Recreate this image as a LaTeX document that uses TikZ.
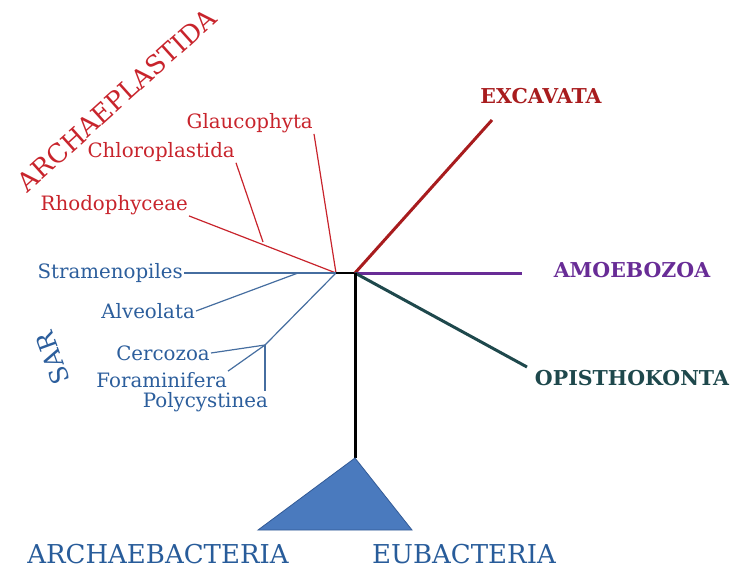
\documentclass[tikz,border=0pt]{standalone}
\usepackage{fontspec}
\setmainfont{DejaVu Serif}
\usetikzlibrary{positioning,calc}
\definecolor{archred}{RGB}{200,36,44}
\definecolor{excred}{RGB}{168,28,30}
\definecolor{amoepurple}{RGB}{104,44,150}
\definecolor{opisteal}{RGB}{30,72,76}
\definecolor{sarblue}{RGB}{44,94,156}
\definecolor{sarline}{RGB}{70,110,160}
\definecolor{bactblue}{RGB}{40,92,154}
\definecolor{trifill}{RGB}{74,122,190}
\definecolor{tridraw}{RGB}{50,90,150}

\begin{document}
\begin{tikzpicture}[
    x=1pt, y=-1pt,
    taxon/.style={font=\fontsize{19.8}{22}\selectfont, inner sep=1pt},
    plastid/.style={taxon, text=archred},
    sar/.style={taxon, text=sarblue},
    supergroup/.style={font=\fontsize{20.5}{23}\selectfont\bfseries, inner sep=1pt},
    bigname/.style={font=\fontsize{26}{29}\selectfont, inner sep=0pt},
    thinedge/.style={line width=1.2pt},
    thickedge/.style={line width=3pt}
]
\useasboundingbox (0,0) rectangle (732,570);

% junctions of the tree
\coordinate (euk) at (355,273);
\coordinate (core) at (336,273);
\coordinate (rhodojunc) at (263,242);
\coordinate (alvjunc) at (298,273);
\coordinate (rhizjunc) at (265,345);
\coordinate (apex) at (355,458);
\coordinate (excend) at (492,120);
\coordinate (amoend) at (522,273);
\coordinate (opisend) at (527,367);

% Archaeplastida
\node[bigname, text=archred, rotate=42] (archaeplastida) at (117,100) {ARCHAEPLASTIDA};
\node[plastid, anchor=east] (glauco) at (314,123) {Glaucophyta};
\node[plastid, anchor=east] (chloro) at (236,152) {Chloroplastida};
\node[plastid, anchor=east] (rhodo) at (189,205) {Rhodophyceae};

\draw[thinedge, archred] (glauco.south east) -- (core);
\draw[thinedge, archred] (rhodo.south east) -- (core);
\draw[thinedge, archred] (chloro.south east) -- (rhodojunc);

% SAR
\node[bigname, text=sarblue, font=\fontsize{25}{27}\selectfont, rotate=110] (sarlbl) at (53,358) {SAR};
\node[sar, anchor=east] (strameno) at (184,273) {Stramenopiles};
\node[sar, anchor=east] (alveo) at (196,311) {Alveolata};
\node[sar, anchor=east] (cerco) at (211,353) {Cercozoa};
\node[sar, anchor=east] (foram) at (228,380) {Foraminifera};
\node[sar, anchor=east] (polycys) at (269,402) {Polycystinea};

\draw[thinedge, sarline] (strameno.east) -- (core);
\draw[thinedge, sarline] (alveo.east) -- (alvjunc);
\draw[thinedge, sarline] (core) -- (rhizjunc);
\draw[thinedge, sarline] (cerco.east) -- (rhizjunc);
\draw[thinedge, sarline] (foram.north east) -- (rhizjunc);
\draw[thinedge, sarline] (rhizjunc) -- (rhizjunc |- polycys.north);

% other supergroups
\draw[thinedge, black] (core) -- (euk);
\draw[thickedge, excred] (euk) -- (excend);
\draw[thickedge, amoepurple] (euk) -- (amoend);
\draw[thickedge, opisteal] (euk) -- (opisend);
\draw[thickedge, black] (euk) -- (apex);

\node[supergroup, text=excred] (excavata) at (541,96) {EXCAVATA};
\node[supergroup, text=amoepurple] (amoebozoa) at (632,270) {AMOEBOZOA};
\node[supergroup, text=opisteal] (opisthokonta) at (632,378) {OPISTHOKONTA};

% prokaryotes
\filldraw[fill=trifill, draw=tridraw, line width=0.8pt] (apex) -- (258,530) -- (412,530) -- cycle;
\node[bigname, text=bactblue] (archaebact) at (158,554) {ARCHAEBACTERIA};
\node[bigname, text=bactblue] (eubact) at (464,554) {EUBACTERIA};

\end{tikzpicture}
\end{document}
